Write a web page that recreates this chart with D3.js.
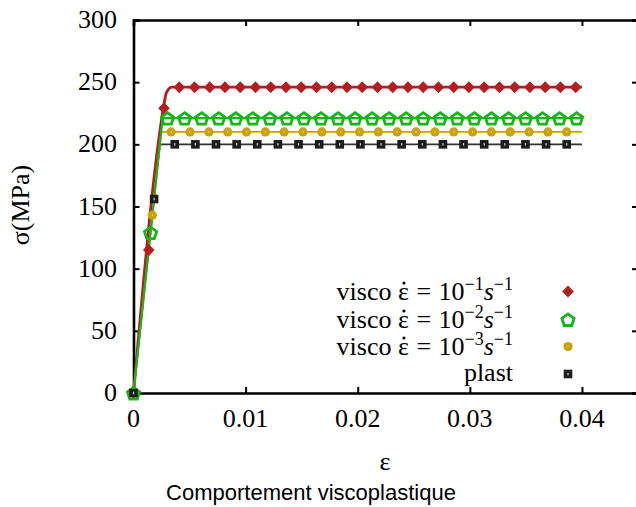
<!DOCTYPE html>
<html><head><meta charset="utf-8">
<script src="https://cdn.jsdelivr.net/npm/d3@7"></script>
<style>html,body{margin:0;padding:0;background:#fff;overflow:hidden}</style>
</head><body>
<svg id="c" width="636" height="507"></svg>
<script>
// ---- data ----
const xTicks = [0, 0.01, 0.02, 0.03, 0.04];
const yTicks = [0, 50, 100, 150, 200, 250, 300];
const xTickLabels = ["0", "0.01", "0.02", "0.03", "0.04"];
const yTickLabels = ["0", "50", "100", "150", "200", "250", "300"];

// markers
const redStrain = [0, 0.00136, 0.00272, 0.00408, 0.00544, 0.0068, 0.00816, 0.00952, 0.01088, 0.01224, 0.0136, 0.01496, 0.01632, 0.01768, 0.01904, 0.0204, 0.02176, 0.02312, 0.02448, 0.02584, 0.0272, 0.02856, 0.02992, 0.03128, 0.03264, 0.034, 0.03536, 0.03672, 0.03808, 0.03944];
const redStress = [0, 115, 229, 246, 246, 246, 246, 246, 246, 246, 246, 246, 246, 246, 246, 246, 246, 246, 246, 246, 246, 246, 246, 246, 246, 246, 246, 246, 246, 246];
const greenStrain = [0, 0.00152, 0.00304, 0.00456, 0.00608, 0.0076, 0.00912, 0.01064, 0.01216, 0.01368, 0.0152, 0.01672, 0.01824, 0.01976, 0.02128, 0.0228, 0.02432, 0.02584, 0.02736, 0.02888, 0.0304, 0.03192, 0.03344, 0.03496, 0.03648, 0.038, 0.03952];
const greenStress = [0, 129, 221, 221, 221, 221, 221, 221, 221, 221, 221, 221, 221, 221, 221, 221, 221, 221, 221, 221, 221, 221, 221, 221, 221, 221, 221];
const yellowStrain = [0, 0.00168, 0.00336, 0.00504, 0.00672, 0.0084, 0.01008, 0.01176, 0.01344, 0.01512, 0.0168, 0.01848, 0.02016, 0.02184, 0.02352, 0.0252, 0.02688, 0.02856, 0.03024, 0.03192, 0.0336, 0.03528, 0.03696, 0.03864];
const yellowStress = [0, 143, 210, 210, 210, 210, 210, 210, 210, 210, 210, 210, 210, 210, 210, 210, 210, 210, 210, 210, 210, 210, 210, 210];
const blackStrain = [0, 0.00184, 0.00368, 0.00552, 0.00736, 0.0092, 0.01104, 0.01288, 0.01472, 0.01656, 0.0184, 0.02024, 0.02208, 0.02392, 0.02576, 0.0276, 0.02944, 0.03128, 0.03312, 0.03496, 0.0368, 0.03864];
const blackStress = [0, 156, 200, 200, 200, 200, 200, 200, 200, 200, 200, 200, 200, 200, 200, 200, 200, 200, 200, 200, 200, 200];

// continuous curves
const redLineStrain = [0, 0.0027, 0.00288, 0.0031, 0.0034, 0.0037, 0.04];
const redLineStress = [0, 231, 240, 244, 246, 246, 246];
const greenLineStrain = [0, 0.0026, 0.04];
const greenLineStress = [0, 221, 221];
const yellowLineStrain = [0, 0.00247, 0.04];
const yellowLineStress = [0, 210, 210];
const blackLineStrain = [0, 0.00235, 0.04];
const blackLineStress = [0, 200, 200];

const legendLabels = ["-1", "-2", "-3"];

// ---- drawing ----
const svg = d3.select("#c");
const serif = "'Liberation Serif','Times New Roman',serif";
const x = d3.scaleLinear().domain([0, 0.045]).range([133.5, 638]);
const y = d3.scaleLinear().domain([0, 300]).range([393, 20]);

const zip = (a, b) => a.map((v, i) => [v, b[i]]);
const line = d3.line().x(d => x(d[0])).y(d => y(d[1]));
const redLine = d3.line().x(d => x(d[0])).y(d => y(d[1])).curve(d3.curveMonotoneX);

const C = {red: "#b31e1e", green: "#19b419", yellow: "#c9a20c", black: "#1c1c1c"};

// axes (inward ticks, mirrored)
const gB = svg.append("g").attr("transform", `translate(0,${y(0)})`)
  .call(d3.axisBottom(x).tickValues(xTicks).tickSize(-6).tickFormat(""));
const gT = svg.append("g").attr("transform", `translate(0,${y(300)})`)
  .call(d3.axisTop(x).tickValues(xTicks).tickSize(-6).tickFormat(""));
const gL = svg.append("g").attr("transform", `translate(${x(0)},0)`)
  .call(d3.axisLeft(y).tickValues(yTicks).tickSize(-6).tickFormat(""));
const gR = svg.append("g").attr("transform", `translate(${x(0.045)},0)`)
  .call(d3.axisRight(y).tickValues(yTicks).tickSize(-6).tickFormat(""));
[gB, gT, gL, gR].forEach(g => {
  g.select(".domain").attr("stroke", "#000").attr("stroke-width", 2.6);
  g.selectAll(".tick line").attr("stroke", "#000").attr("stroke-width", 2);
});

// tick labels
svg.append("g").selectAll("text").data(xTicks).join("text")
  .attr("x", d => x(d)).attr("y", 427).attr("text-anchor", "middle")
  .attr("font-family", serif).attr("font-size", 26).text((d, i) => xTickLabels[i]);
svg.append("g").selectAll("text").data(yTicks).join("text")
  .attr("x", 117).attr("y", d => y(d) + 8).attr("text-anchor", "end")
  .attr("font-family", serif).attr("font-size", 26).text((d, i) => yTickLabels[i]);

// axis titles
svg.append("text").attr("transform", "translate(29,205) rotate(-90)")
  .attr("text-anchor", "middle").attr("font-family", serif).attr("font-size", 26).text("σ(MPa)");
svg.append("text").attr("x", 385).attr("y", 470).attr("text-anchor", "middle")
  .attr("font-family", serif).attr("font-size", 26).text("ε");
svg.append("text").attr("x", 311).attr("y", 500).attr("text-anchor", "middle")
  .attr("font-family", "'Liberation Sans',Arial,sans-serif").attr("font-size", 22)
  .text("Comportement viscoplastique");

// lines
const plot = svg.append("g");
plot.append("path").attr("d", redLine(zip(redLineStrain, redLineStress)))
  .attr("fill", "none").attr("stroke", C.red).attr("stroke-width", 2.8);
plot.append("path").attr("d", line(zip(blackLineStrain, blackLineStress)))
  .attr("fill", "none").attr("stroke", "#333").attr("stroke-width", 1.6);
plot.append("path").attr("d", line(zip(yellowLineStrain, yellowLineStress)))
  .attr("fill", "none").attr("stroke", C.yellow).attr("stroke-width", 1.8);
plot.append("path").attr("d", line(zip(greenLineStrain, greenLineStress)))
  .attr("fill", "none").attr("stroke", C.green).attr("stroke-width", 2.2);

// marker shapes
function pentagonPath(r) {
  const pts = [];
  for (let k = 0; k < 5; k++) {
    const a = -Math.PI / 2 + k * 2 * Math.PI / 5;
    pts.push([r * Math.cos(a), r * Math.sin(a)]);
  }
  return "M" + pts.map(p => p.join(",")).join("L") + "Z";
}
function drawRed(g, cx, cy) {
  g.append("path").attr("d", "M0,-6L5.8,0L0,6L-5.8,0Z")
    .attr("transform", `translate(${cx},${cy})`).attr("fill", C.red);
}
function drawGreen(g, cx, cy) {
  g.append("path").attr("d", pentagonPath(6.4))
    .attr("transform", `translate(${cx},${cy + 0.8})`).attr("fill", "none")
    .attr("stroke", C.green).attr("stroke-width", 2.8).attr("stroke-linejoin", "miter");
}
function drawYellow(g, cx, cy) {
  g.append("circle").attr("cx", cx).attr("cy", cy).attr("r", 4.6).attr("fill", C.yellow);
  g.append("rect").attr("x", cx - 0.6).attr("y", cy - 0.8).attr("width", 1.2).attr("height", 1.6).attr("fill", "#e8d48a");
}
function drawBlack(g, cx, cy) {
  g.append("rect").attr("x", cx - 4.3).attr("y", cy - 4.3).attr("width", 8.6).attr("height", 8.6).attr("fill", C.black);
  g.append("rect").attr("x", cx - 0.6).attr("y", cy - 1.3).attr("width", 1.2).attr("height", 2.6).attr("fill", "#cfcfcf");
}

const mk = svg.append("g");
zip(redStrain, redStress).forEach(d => drawRed(mk, x(d[0]), y(d[1])));
zip(greenStrain, greenStress).forEach(d => drawGreen(mk, x(d[0]), y(d[1])));
zip(yellowStrain, yellowStress).forEach(d => drawYellow(mk, x(d[0]), y(d[1])));
zip(blackStrain, blackStress).forEach(d => drawBlack(mk, x(d[0]), y(d[1])));

// legend
const lg = svg.append("g");
const rowY = [291.5, 319.5, 346.5, 374];
legendLabels.forEach((lab, i) => {
  const base = rowY[i] + 8;
  const t = lg.append("text").attr("x", 513).attr("y", base).attr("text-anchor", "end")
    .attr("font-family", serif).attr("font-size", 26);
  t.append("tspan").text("visco ε");
  t.append("tspan").attr("dx", 7.5).text("=");
  t.append("tspan").attr("dx", 7.5).text("10");
  t.append("tspan").attr("font-size", 18).attr("dy", -10).text(lab.replace("-", "\u2212"));
  t.append("tspan").attr("font-style", "italic").attr("dy", 10).text("s");
  t.append("tspan").attr("font-size", 18).attr("dy", -10).text("\u22121");
  // dot above epsilon (time derivative)
  const node = t.node();
  const idx = node.textContent.indexOf("ε");
  let cxDot = 0;
  try {
    const ext = node.getExtentOfChar(idx);
    cxDot = ext.x + ext.width / 2 + 0.5;
  } catch (e) { cxDot = 400; }
  lg.append("circle").attr("cx", cxDot).attr("cy", base - 16.5).attr("r", 1.6).attr("fill", "#000");
});
lg.append("text").attr("x", 513).attr("y", rowY[3] + 7).attr("text-anchor", "end")
  .attr("font-family", serif).attr("font-size", 26).text("plast");
drawRed(lg, 568, rowY[0]);
drawGreen(lg, 568, rowY[1]);
drawYellow(lg, 568, rowY[2]);
drawBlack(lg, 568, rowY[3]);
</script>
</body></html>
